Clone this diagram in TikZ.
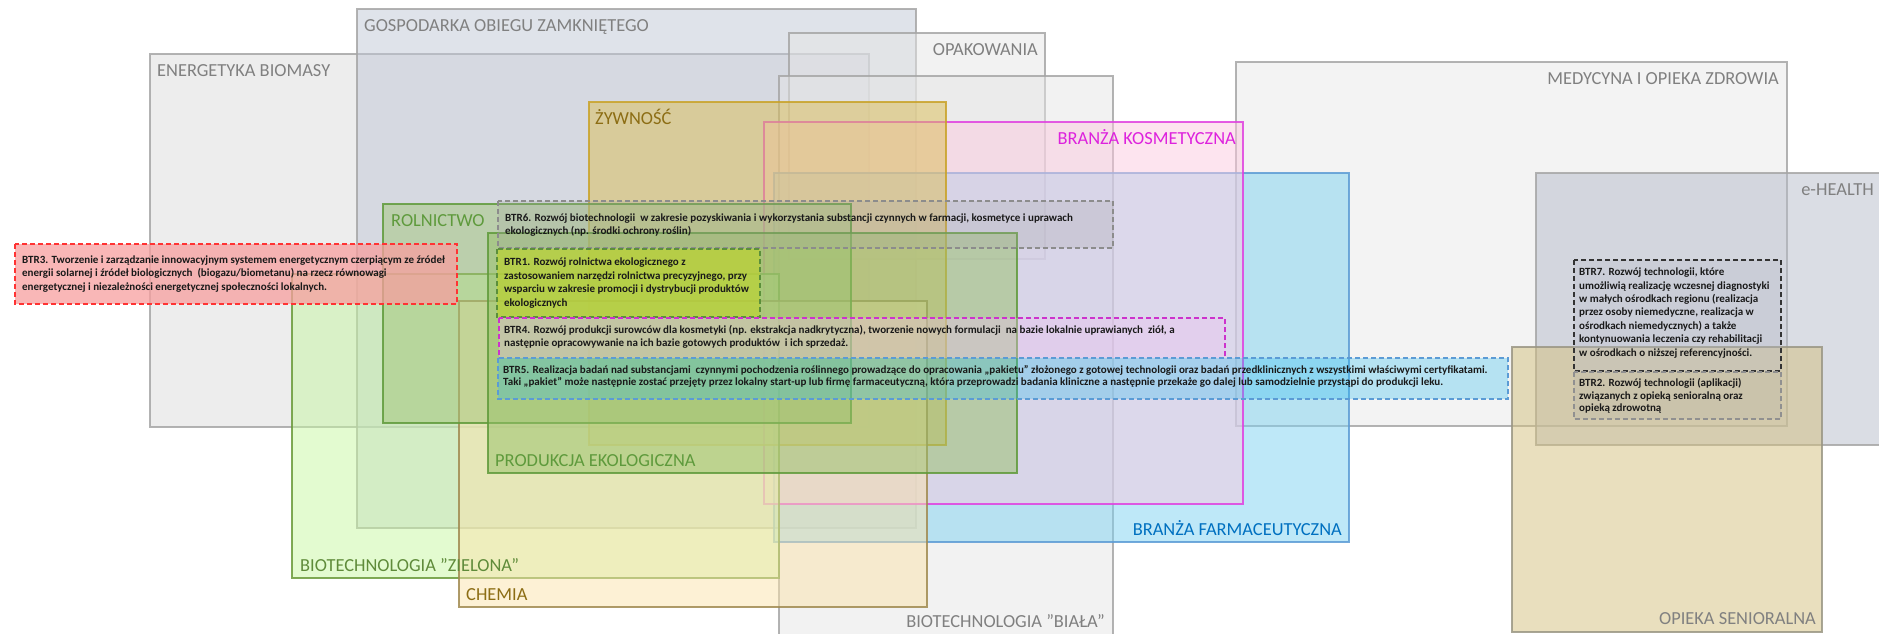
\documentclass[tikz,border=0pt]{standalone}
\usepackage{fontspec}
\setmainfont{Carlito}
\definecolor{cEnerg}{HTML}{DBDBDB}
\definecolor{cGosp}{HTML}{BFC7D5}
\definecolor{cOpak}{HTML}{E5E5E5}
\definecolor{cBiala}{HTML}{E5E5E5}
\definecolor{cZywn}{HTML}{DCBE55}
\definecolor{cKosm}{HTML}{FBC9DF}
\definecolor{cFarm}{HTML}{7DD1F1}
\definecolor{cMed}{HTML}{E7E7E7}
\definecolor{cEh}{HTML}{B5BBC9}
\definecolor{cOpie}{HTML}{D3BF7D}
\definecolor{cRoln}{HTML}{A3C57A}
\definecolor{cProd}{HTML}{96C068}
\definecolor{cZiel}{HTML}{C7F7A1}
\definecolor{cChem}{HTML}{FBE3AB}
\definecolor{bGrey}{HTML}{A6A6A6}
\definecolor{bZywn}{HTML}{C9A227}
\definecolor{bKosm}{HTML}{E040E0}
\definecolor{bFarm}{HTML}{5B9BD5}
\definecolor{bGreen}{HTML}{5F9A3A}
\definecolor{bZiel}{HTML}{6A9A3A}
\definecolor{bChem}{HTML}{A08A50}
\definecolor{bOpie}{HTML}{9A9684}
\definecolor{tGrey}{HTML}{808080}
\definecolor{tGold}{HTML}{8C6D14}
\definecolor{tKosm}{HTML}{DD22DD}
\definecolor{tFarm}{HTML}{0070C0}
\definecolor{tGreen}{HTML}{5E9A3C}
\definecolor{tZiel}{HTML}{5F8B3A}
\definecolor{fBtrThree}{HTML}{F79F9F}
\definecolor{dBtrThree}{HTML}{FF3333}
\definecolor{fBtrOne}{HTML}{BCD233}
\definecolor{dBtrOne}{HTML}{5B8F3A}
\definecolor{fBtrFour}{HTML}{F0C0F0}
\definecolor{dBtrFour}{HTML}{CC33CC}
\definecolor{fBtrFive}{HTML}{28BEF0}
\definecolor{dBtrFive}{HTML}{5B9BD5}
\definecolor{dBtrSix}{HTML}{8C8C8C}
\definecolor{dBtrSeven}{HTML}{333333}
\definecolor{dBtrTwo}{HTML}{909090}
\newcommand{\sq}{\char"22\relax}
\begin{document}
\begin{tikzpicture}[x=1pt,y=-1pt,
  area/.style={draw opacity=0.85, line width=1.2pt, fill opacity=0.5},
  lab/.style={font=\fontsize{18.4}{22}\selectfont, inner sep=0pt},
  btrbox/.style={dash pattern=on 5pt off 3pt, line width=1.5pt},
  btrtext/.style={font=\fontsize{11}{13.4}\selectfont\bfseries, align=left, inner sep=0pt, text=black!90},
]
\useasboundingbox (0,0) rectangle (1879,633);
% areas
\draw[area, draw=bGrey, fill=cEnerg] (150,54) rectangle (869,427);
\draw[area, draw=bGrey, fill=cGosp] (357,9) rectangle (916,528);
\draw[area, draw=bGrey, fill=cOpak] (789,33) rectangle (1045,259);
\draw[area, draw=bGrey, fill=cBiala] (779,76) rectangle (1113,645);
\draw[area, draw=bGrey, fill=cMed] (1236,62) rectangle (1787,426);
\draw[area, draw=bGrey, fill=cEh] (1536,173) rectangle (1890,445);
\draw[area, draw=bOpie, fill=cOpie] (1512,347) rectangle (1822,632);
\draw[area, draw=bFarm, fill=cFarm] (774,173) rectangle (1349,542);
\draw[area, draw=bKosm, fill=cKosm] (764,122) rectangle (1243,504);
\draw[area, draw=bZywn, fill=cZywn] (589,102) rectangle (946,445);
\draw[area, draw=bZiel, fill=cZiel] (292,274) rectangle (779,578);
\draw[area, draw=bChem, fill=cChem] (459,301) rectangle (927,607);
\draw[area, draw=bGreen, fill=cRoln] (383,204) rectangle (851,423);
\draw[area, draw=bGreen, fill=cProd] (488,233) rectangle (1017,473);
% BTR boxes
\draw[btrbox, draw=dBtrThree, fill=fBtrThree, fill opacity=0.75] (15,244) rectangle (457,304);
\draw[btrbox, draw=dBtrSix, fill=bGrey, fill opacity=0.25] (498,201) rectangle (1113,248);
\draw[btrbox, draw=dBtrOne, fill=fBtrOne, fill opacity=0.7] (497,249) rectangle (760,317);
\draw[btrbox, draw=dBtrFour, fill=fBtrFour, fill opacity=0.35] (499,318) rectangle (1225,358);
\draw[btrbox, draw=dBtrFive, fill=fBtrFive, fill opacity=0.3] (498,358) rectangle (1508,399);
\draw[btrbox, draw=dBtrSeven, fill=cEh, fill opacity=0.3] (1574,260) rectangle (1781,371);
\draw[btrbox, draw=dBtrTwo, fill=bGrey, fill opacity=0.2] (1574,372) rectangle (1781,419);
% labels
\node[lab, text=tGrey, anchor=base west] (lenerg) at (157,76.5) {ENERGETYKA BIOMASY};
\node[lab, text=tGrey, anchor=base west] (lgosp) at (364,31.5) {GOSPODARKA OBIEGU ZAMKNIĘTEGO};
\node[lab, text=tGrey, anchor=base east] (lopak) at (1038,55.5) {OPAKOWANIA};
\node[lab, text=tGold, anchor=base west] (lzywn) at (595,124.5) {ŻYWNOŚĆ};
\node[lab, text=tKosm, anchor=base east] (lkosm) at (1236,144.5) {BRANŻA KOSMETYCZNA};
\node[lab, text=tGrey, anchor=base east] (lmed) at (1779,84.5) {MEDYCYNA I OPIEKA ZDROWIA};
\node[lab, text=tGrey, anchor=base east] (leh) at (1874,195.5) {e-HEALTH};
\node[lab, text=tGreen, anchor=base west] (lroln) at (391,226.5) {ROLNICTWO};
\node[lab, text=tGreen, anchor=base west] (lprod) at (495,466) {PRODUKCJA EKOLOGICZNA};
\node[lab, text=tFarm, anchor=base east] (lfarm) at (1342,535) {BRANŻA FARMACEUTYCZNA};
\node[lab, text=tZiel, anchor=base west] (lziel) at (300,571) {BIOTECHNOLOGIA \sq ZIELONA\sq};
\node[lab, text=tGold, anchor=base west] (lchem) at (466,600) {CHEMIA};
\node[lab, text=tGrey, anchor=base east] (lbiala) at (1105,627) {BIOTECHNOLOGIA \sq BIAŁA\sq};
\node[lab, text=tGrey, anchor=base east] (lopie) at (1816,624) {OPIEKA SENIORALNA};
% BTR texts
\node[btrtext, anchor=west] (btr3) at (22,274) {BTR3. Tworzenie i zarządzanie innowacyjnym systemem energetycznym czerpiącym ze źródeł\\energii solarnej i źródeł biologicznych \ (biogazu/biometanu) na rzecz równowagi\\energetycznej i niezależności energetycznej społeczności lokalnych.};
\node[btrtext, anchor=west, font=\fontsize{11}{13}\selectfont\bfseries] (btr6) at (505,225) {BTR6. Rozwój biotechnologii \ w zakresie pozyskiwania i wykorzystania substancji czynnych w farmacji, kosmetyce i uprawach\\ekologicznych (np. środki ochrony roślin)};
\node[btrtext, anchor=west] (btr1) at (504,283) {BTR1. Rozwój rolnictwa ekologicznego z\\zastosowaniem narzędzi rolnictwa precyzyjnego, przy\\wsparciu w zakresie promocji i dystrybucji produktów\\ekologicznych};
\node[btrtext, anchor=west, font=\fontsize{11}{12.7}\selectfont\bfseries] (btr4) at (504,337) {BTR4. Rozwój produkcji surowców dla kosmetyki (np. ekstrakcja nadkrytyczna), tworzenie nowych formulacji \ na bazie lokalnie uprawianych \ ziół, a\\następnie opracowywanie na ich bazie gotowych produktów \ i ich sprzedaż.};
\node[btrtext, anchor=west, font=\fontsize{11}{12.7}\selectfont\bfseries] (btr5) at (503,376.5) {BTR5. Realizacja badań nad substancjami \ czynnymi pochodzenia roślinnego prowadzące do opracowania „pakietu” złożonego z gotowej technologii oraz badań przedklinicznych z wszystkimi właściwymi certyfikatami.\\Taki „pakiet” może następnie zostać przejęty przez lokalny start-up lub firmę farmaceutyczną, która przeprowadzi badania kliniczne a następnie przekaże go dalej lub samodzielnie przystąpi do produkcji leku.};
\node[btrtext, anchor=west] (btr7) at (1579,313) {BTR7. Rozwój technologii, które\\umożliwią realizację wczesnej diagnostyki\\w małych ośrodkach regionu (realizacja\\przez osoby niemedyczne, realizacja w\\ośrodkach niemedycznych) a także\\kontynuowania leczenia czy rehabilitacji\\w ośrodkach o niższej referencyjności.};
\node[btrtext, anchor=west, font=\fontsize{11}{12.5}\selectfont\bfseries] (btr2) at (1579,396) {BTR2. Rozwój technologii (aplikacji)\\związanych z opieką senioralną oraz\\opieką zdrowotną};
\end{tikzpicture}
\end{document}
